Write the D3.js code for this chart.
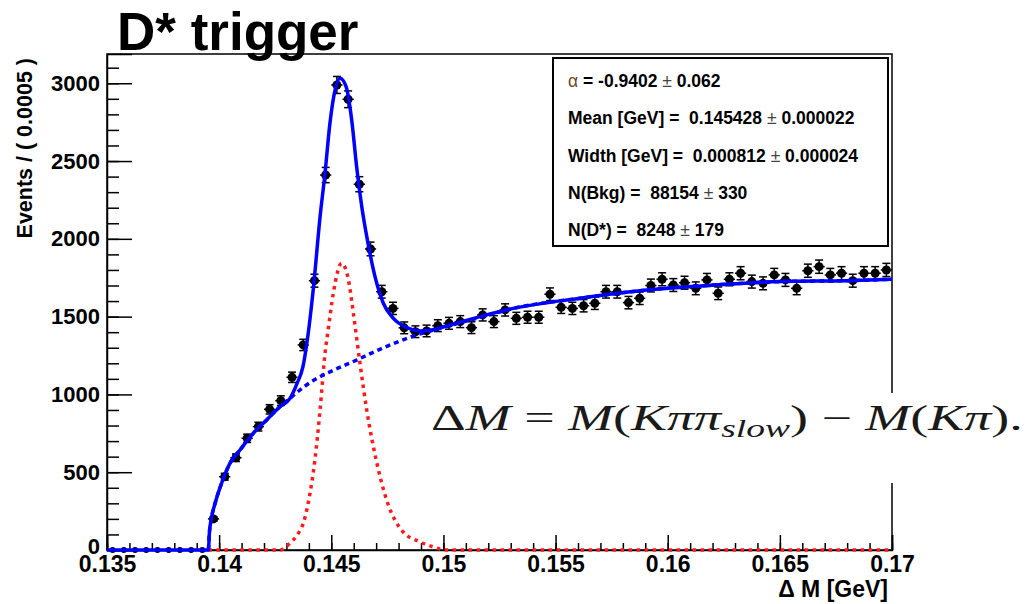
<!DOCTYPE html>
<html>
<head>
<meta charset="utf-8">
<title>D* trigger -- Delta M fit</title>
<script src="https://cdn.jsdelivr.net/npm/d3@7"></script>
<style>
  body { margin: 0; background: #fff; }
  text { font-family: "Liberation Sans", Arial, sans-serif; }
  .axis path, .axis line { stroke: #000; stroke-width: 1.5; }
  .axis text { font-weight: bold; fill: #000; }
</style>
</head>
<body>
<script>
// ---- data ----
var binWidth = 0.0005;
var binLow = 0.135;
var counts = [0, 0, 0, 0, 0, 0, 0, 0, 0, 200,
  471, 593, 718, 793, 904, 960, 1110, 1318, 1731, 2410,
  2989, 2897, 2351, 1935, 1660, 1553, 1428, 1403, 1408, 1442,
  1457, 1468, 1429, 1511, 1468, 1543, 1489, 1496, 1496, 1644,
  1560, 1553, 1570, 1586, 1660, 1660, 1590, 1618, 1700, 1740,
  1703, 1718, 1682, 1736, 1650, 1740, 1779, 1725, 1714, 1768,
  1736, 1682, 1795, 1821, 1768, 1779, 1731, 1779, 1779, 1800];

// total fit (solid blue)
var totalX = [0.135, 0.13952, 0.13957, 0.13964, 0.13982, 0.14011, 0.14048, 0.14093, 0.14152, 0.14212,
  0.14271, 0.14316, 0.14347, 0.14374, 0.14396, 0.14420, 0.14450, 0.14472, 0.14494, 0.14517,
  0.14539, 0.14566, 0.14591, 0.14613, 0.14636, 0.14661, 0.14695, 0.14732, 0.14777, 0.14836,
  0.14896, 0.14954, 0.15015, 0.15163, 0.15312, 0.15609, 0.15906, 0.16203, 0.16501, 0.16798, 0.17];
var totalY = [0, 0, 120, 193, 300, 429, 557, 643, 750, 836,
  921, 975, 1070, 1180, 1380, 1680, 2142, 2421, 2743, 2957,
  3032, 2978, 2764, 2464, 2207, 1993, 1757, 1586, 1489, 1430,
  1408, 1415, 1440, 1500, 1553, 1618, 1671, 1703, 1725, 1731, 1740];

// background component (dashed blue)
var bkgX = [0.13952, 0.13957, 0.13964, 0.13982, 0.14011, 0.14048, 0.14093, 0.14152, 0.14212, 0.14271,
  0.14316, 0.14346, 0.14420, 0.14509, 0.14613, 0.14717, 0.14866, 0.14985, 0.15163, 0.15312,
  0.15609, 0.15906, 0.16203, 0.16501, 0.16798, 0.17];
var bkgY = [0, 120, 193, 300, 429, 557, 643, 750, 836, 921,
  975, 1012, 1090, 1155, 1221, 1290, 1375, 1425, 1495, 1553,
  1618, 1671, 1703, 1725, 1731, 1740];

// signal component (red dotted)
var sigX = [0.13952, 0.14271, 0.14316, 0.14353, 0.14375, 0.14405, 0.14427, 0.14450, 0.14472, 0.14486,
  0.14509, 0.14546, 0.14576, 0.14591, 0.14606, 0.14628, 0.14658, 0.14703, 0.14747, 0.14818,
  0.14893, 0.14952, 0.15012, 0.17];
var sigY = [0, 0, 45, 107, 171, 364, 579, 900, 1264, 1414,
  1650, 1843, 1740, 1600, 1440, 1200, 900, 560, 320, 120,
  54, 21, 0, 0];

var paramNames = ["Mean [GeV] = ", "Width [GeV] = ", "N(Bkg) = ", "N(D*) = "];
var paramValues = ["0.145428", "0.000812", "88154", "8248"];
var paramErrors = ["0.000022", "0.000024", "330", "179"];
var alphaValue = "-0.9402", alphaError = "0.062";

var xTicks = [0.135, 0.14, 0.145, 0.15, 0.155, 0.16, 0.165, 0.17];
var yTicks = [0, 500, 1000, 1500, 2000, 2500, 3000];

// ---- layout ----
var width = 1028, height = 604;
var mLeft = 107, mRight = 892, mTop = 54, mBottom = 550;

var svg = d3.select("body").append("svg")
  .attr("width", width).attr("height", height);

var x = d3.scaleLinear().domain([0.135, 0.17]).range([mLeft, mRight]);
var y = d3.scaleLinear().domain([0, 3188]).range([mBottom, mTop]);

// title
svg.append("text").attr("x", 117).attr("y", 50)
  .style("font-size", "53px").style("font-weight", "bold")
  .text("D* trigger");

// frame
svg.append("rect").attr("x", mLeft).attr("y", mTop)
  .attr("width", mRight - mLeft).attr("height", mBottom - mTop)
  .attr("fill", "none").attr("stroke", "#000").attr("stroke-width", 1.5);

// axes
var xMinor = d3.range(0.135, 0.1701, 0.001);
svg.append("g").attr("class", "axis")
  .attr("transform", "translate(0," + mBottom + ")")
  .call(d3.axisBottom(x).tickValues(xMinor).tickSize(-7).tickFormat(""))
  .call(function(g) { g.select(".domain").remove(); });
svg.append("g").attr("class", "axis x-axis")
  .attr("transform", "translate(0," + mBottom + ")")
  .call(d3.axisBottom(x).tickValues(xTicks).tickSize(-15).tickPadding(6)
    .tickFormat(function(d) { return String(+d.toFixed(3)); }))
  .call(function(g) { g.selectAll("text").style("font-size", "23px"); });

var yMinor = d3.range(0, 3101, 100);
svg.append("g").attr("class", "axis")
  .attr("transform", "translate(" + mLeft + ",0)")
  .call(d3.axisLeft(y).tickValues(yMinor).tickSize(-12).tickFormat(""))
  .call(function(g) { g.select(".domain").remove(); });
svg.append("g").attr("class", "axis y-axis")
  .attr("transform", "translate(" + mLeft + ",0)")
  .call(d3.axisLeft(y).tickValues(yTicks).tickSize(-25).tickPadding(7)
    .tickFormat(d3.format("d")))
  .call(function(g) {
    g.selectAll("text").style("font-size", "22px");
    g.selectAll(".tick text").filter(function(d) { return d === 0; }).attr("dy", "0.18em");
  });

// axis titles
svg.append("text")
  .attr("transform", "translate(32,58) rotate(-90)")
  .attr("text-anchor", "end")
  .style("font-size", "21.5px").style("font-weight", "bold")
  .text("Events / ( 0.0005 )");
svg.append("text").attr("x", 888).attr("y", 597)
  .attr("text-anchor", "end")
  .style("font-size", "23px").style("font-weight", "bold")
  .text("\u0394 M [GeV]");

// data points with error bars
var bins = counts.map(function(c, i) {
  return { x: binLow + (i + 0.5) * binWidth, n: c, e: Math.sqrt(c) };
});
var pts = svg.append("g").attr("class", "points");
var pg = pts.selectAll("g").data(bins).enter().append("g");
pg.append("line")
  .attr("x1", function(d) { return x(d.x - binWidth / 2); })
  .attr("x2", function(d) { return x(d.x + binWidth / 2); })
  .attr("y1", function(d) { return y(d.n); })
  .attr("y2", function(d) { return y(d.n); })
  .attr("stroke", "#000").attr("stroke-width", 1.5);
pg.filter(function(d) { return d.n > 0; }).each(function(d) {
  var g = d3.select(this), cx = x(d.x);
  g.append("line").attr("x1", cx).attr("x2", cx)
    .attr("y1", y(d.n - d.e)).attr("y2", y(d.n + d.e))
    .attr("stroke", "#000").attr("stroke-width", 1.5);
  [d.n - d.e, d.n + d.e].forEach(function(v) {
    g.append("line").attr("x1", cx - 4).attr("x2", cx + 4)
      .attr("y1", y(v)).attr("y2", y(v))
      .attr("stroke", "#000").attr("stroke-width", 1.5);
  });
});
pg.append("circle")
  .attr("cx", function(d) { return x(d.x); })
  .attr("cy", function(d) { return y(d.n); })
  .attr("r", function(d) { return d.n > 0 ? 4.5 : 3; })
  .attr("fill", "#000");

// fit curves
function curvePath(xs, ys) {
  return d3.line()
    .x(function(d, i) { return x(xs[i]); })
    .y(function(d, i) { return y(ys[i]); })
    .curve(d3.curveMonotoneX)(xs);
}
svg.append("path").attr("d", curvePath(sigX, sigY))
  .attr("fill", "none").attr("stroke", "#ff1a1a").attr("stroke-width", 3.5)
  .attr("stroke-dasharray", "3.5,4.5");
svg.append("path").attr("d", curvePath(bkgX, bkgY))
  .attr("fill", "none").attr("stroke", "#0000ff").attr("stroke-width", 3.5)
  .attr("stroke-dasharray", "5,4");
svg.append("path").attr("d", curvePath(totalX, totalY))
  .attr("fill", "none").attr("stroke", "#0000ff").attr("stroke-width", 3.5);

// parameter box
svg.append("rect").attr("x", 553).attr("y", 58)
  .attr("width", 335).attr("height", 188)
  .attr("fill", "#fff").attr("stroke", "#000").attr("stroke-width", 2);
var box = svg.append("g").style("font-size", "17.5px");
var rowY = [87, 124, 162, 199, 236];
var t0 = box.append("text").attr("x", 568).attr("y", rowY[0]).attr("xml:space", "preserve");
t0.append("tspan").style("fill", "#6b4a2a").text("\u03b1");
t0.append("tspan").style("font-weight", "bold").text(" = " + alphaValue + " ");
t0.append("tspan").style("fill", "#444").text("\u00b1");
t0.append("tspan").style("font-weight", "bold").text(" " + alphaError);
paramNames.forEach(function(name, i) {
  var t = box.append("text").attr("x", 568).attr("y", rowY[i + 1]).attr("xml:space", "preserve");
  t.append("tspan").style("font-weight", "bold").text(name + " " + paramValues[i]);
  t.append("tspan").style("fill", "#444").text(" \u00b1");
  t.append("tspan").style("font-weight", "bold").text(" " + paramErrors[i]);
});

// formula pasted over the frame
svg.append("rect").attr("x", 418).attr("y", 393)
  .attr("width", 610).attr("height", 90).attr("fill", "#fff");
var fg = svg.append("g");
var f = fg.append("text").attr("x", 0).attr("y", 0)
  .style("font-family", "'Liberation Serif', 'DejaVu Serif', serif")
  .style("font-size", "36px").style("fill", "#1a1a1a")
  .attr("xml:space", "preserve");
function part(txt, italic, sub) {
  var s = f.append("tspan").text(txt);
  if (italic) s.style("font-style", "italic");
  if (sub) s.style("font-size", "25px").attr("dy", 7);
  return s;
}
part("\u0394");
part("M", true);
part(" = ");
part("M", true);
part("(");
part("K\u03c0\u03c0", true);
part("slow", true, true);
part(")").attr("dy", -7);
part(" \u2212 ");
part("M", true);
part("(");
part("K\u03c0", true);
part(").");
var fw = f.node().getComputedTextLength();
fg.attr("transform", "translate(431,430) scale(" + (592 / fw) + ",1)");
</script>
</body>
</html>
